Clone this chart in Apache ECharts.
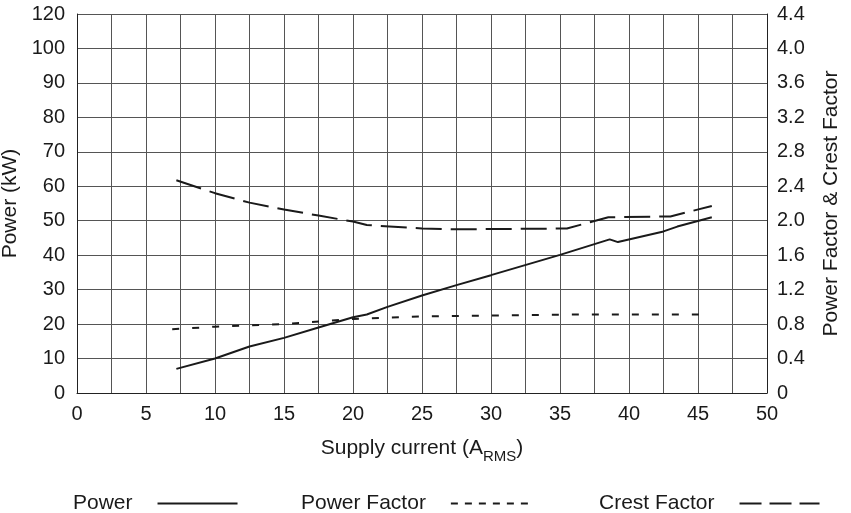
<!DOCTYPE html>
<html>
<head>
<meta charset="utf-8">
<script src="https://cdn.jsdelivr.net/npm/echarts@6/dist/echarts.min.js"></script>
<style>html,body{margin:0;padding:0;background:#fff}#c{width:851px;height:513px}</style>
</head>
<body>
<div id="c"></div>
<script>
// Supply current (A RMS) vs Power (kW)
const powerData = [[7.2,7.0],[10,10.0],[12.5,13.5],[15,16.0],[17.5,19.0],[20,22.0],[21,22.8],[22.5,25.0],[25,28.3],[27.5,31.3],[30,34.2],[35,40.1],[38.6,44.6],[39.2,43.8],[42.5,46.9],[43.5,48.3],[46,51.0]];
// Power factor (right axis)
const pfData = [[6.9,0.74],[10,0.77],[15,0.80],[20,0.86],[25,0.89],[30,0.90],[35,0.91],[40,0.91],[45.6,0.91]];
// Crest factor (right axis)
const cfData = [[7.2,2.47],[10,2.32],[12.5,2.21],[15,2.13],[17.5,2.06],[20,1.99],[21,1.95],[25,1.91],[27.5,1.90],[35.5,1.91],[38.5,2.04],[43,2.05],[46,2.17]];
const leftTickLabels = ['0','10','20','30','40','50','60','70','80','90','100','120'];
const rightTickLabels = ['0','0.4','0.8','1.2','1.6','2.0','2.4','2.8','3.2','3.6','4.0','4.4'];
const xTickLabels = ['0','5','10','15','20','25','30','35','40','45','50'];
const seriesNames = ['Power', 'Power Factor', 'Crest Factor'];

const FONT = '"Liberation Sans", Arial, sans-serif';
const TXT = '#1a1a1a';
const GRIDC = '#555';
const legendDash = ['solid', [7, 7], [22, 8]];
const legendLeft = [73, 301, 599];
const legends = seriesNames.map((n, i) => ({
  top: 493, left: legendLeft[i], padding: 0, align: 'right', itemWidth: 80, itemHeight: 14,
  itemStyle: {opacity: 0, color: 'transparent', borderWidth: 0},
  textStyle: {fontFamily: FONT, fontSize: 21, color: TXT, padding: [0, 20, 0, 0]},
  data: [{name: n, lineStyle: {type: legendDash[i], width: 2}}]
}));

const chart = echarts.init(document.getElementById('c'), null, {renderer:'canvas'});
chart.setOption({
  animation: false,
  backgroundColor: '#fff',
  grid: {left: 77, right: 84, top: 14, bottom: 120, containLabel: false, outerBoundsMode: 'none'},
  legend: legends,
  xAxis: {
    type: 'value', min: 0, max: 50, interval: 5,
    axisLine: {show: true, lineStyle: {color: '#222', width: 1}},
    axisTick: {show: false},
    minorTick: {show: false, splitNumber: 2},
    splitLine: {show: true, lineStyle: {color: GRIDC, width: 1}},
    minorSplitLine: {show: true, lineStyle: {color: GRIDC, width: 1}},
    axisLabel: {fontFamily: FONT, fontSize: 20, color: TXT, margin: 11,
      formatter: v => xTickLabels[Math.round(v / 5)]},
    name: '{a|Supply current (A}{s|RMS}{a|)}',
    nameLocation: 'middle', nameGap: 40,
    nameTextStyle: {fontFamily: FONT, color: TXT,
      rich: {a: {fontFamily: FONT, fontSize: 21, color: TXT},
             s: {fontFamily: FONT, fontSize: 15, color: TXT, padding: [16, 0, 0, 0]}}}
  },
  yAxis: [{
    type: 'value', min: 0, max: 110, interval: 10,
    axisLine: {show: true, lineStyle: {color: '#222', width: 1}},
    axisTick: {show: false},
    splitLine: {show: true, lineStyle: {color: GRIDC, width: 1}},
    axisLabel: {fontFamily: FONT, fontSize: 20, color: TXT, margin: 12,
      formatter: v => leftTickLabels[Math.round(v / 10)]},
    name: 'Power (kW)', nameLocation: 'middle', nameGap: 37, nameRotate: 90,
    nameTextStyle: {fontFamily: FONT, fontSize: 21, color: TXT}
  }, {
    type: 'value', min: 0, max: 4.4, interval: 0.4, position: 'right',
    axisLine: {show: true, lineStyle: {color: '#222', width: 1}},
    axisTick: {show: false},
    splitLine: {show: false},
    axisLabel: {fontFamily: FONT, fontSize: 20, color: TXT, margin: 10,
      formatter: v => rightTickLabels[Math.round(v / 0.4)]},
    name: 'Power Factor & Crest Factor', nameLocation: 'middle', nameGap: 54, nameRotate: 90,
    nameTextStyle: {fontFamily: FONT, fontSize: 21, color: TXT}
  }],
  series: [{
    name: seriesNames[0], type: 'line', yAxisIndex: 0, data: powerData, symbol: 'none',
    lineStyle: {color: TXT, width: 2}, itemStyle: {color: TXT}
  }, {
    name: seriesNames[1], type: 'line', yAxisIndex: 1, data: pfData, symbol: 'none',
    lineStyle: {color: TXT, width: 2, type: [7, 13]}, itemStyle: {color: TXT}
  }, {
    name: seriesNames[2], type: 'line', yAxisIndex: 1, data: cfData, symbol: 'none',
    lineStyle: {color: TXT, width: 2, type: [26, 9]}, itemStyle: {color: TXT}
  }]
});
</script>
</body>
</html>
